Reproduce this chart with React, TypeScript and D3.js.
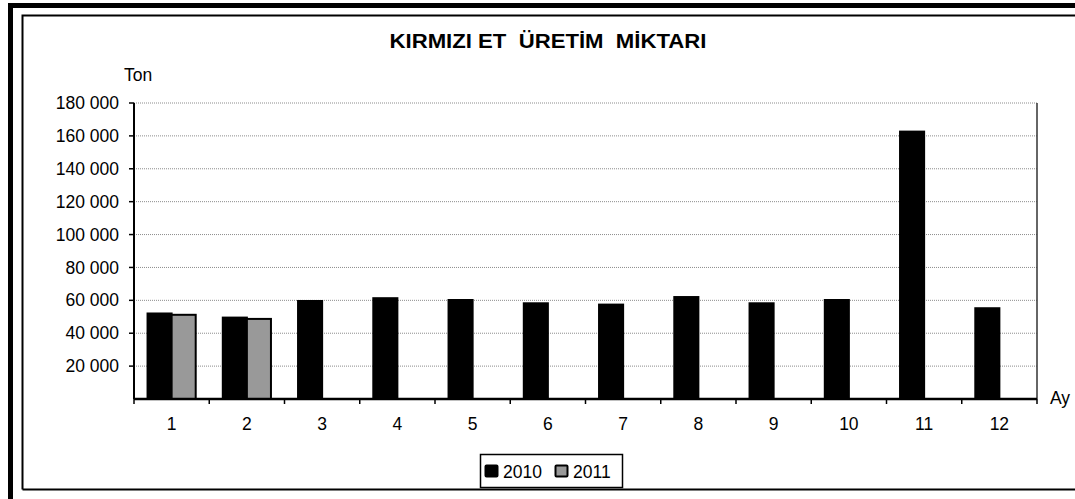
import React from "react";
import * as d3 from "d3";

const months = ["1", "2", "3", "4", "5", "6", "7", "8", "9", "10", "11", "12"];
const series = ["2010", "2011"];
const values2010 = [52000, 49500, 59600, 61300, 60200, 58200, 57400, 62000, 58200, 60200, 162600, 55200];
const values2011: (number | null)[] = [51200, 48700, null, null, null, null, null, null, null, null, null, null];
const yTicks = [20000, 40000, 60000, 80000, 100000, 120000, 140000, 160000, 180000];
const colors = ["#000000", "#999999"];

const W = 1075;
const H = 499;
const L = 134, R = 1037, T = 103, B = 399;
const FONT = "'Liberation Sans', Arial, sans-serif";

export default function App() {
  const x = d3.scaleBand<string>().domain(months).range([L, R]).paddingInner(0.36).paddingOuter(0.18);
  const xs = d3.scaleBand<string>().domain(series).range([0, x.bandwidth()]);
  const y = d3.scaleLinear().domain([0, 180000]).range([B, T]);
  const fmt = (v: number) => d3.format(",")(v).replace(/,/g, " ");
  const step = x.step();
  const tickXs = d3.range(months.length + 1).map((i) => L + i * step);
  const data = [values2010, values2011];

  return (
    <div style={{ position: "fixed", left: 0, top: 0, width: W, height: H, overflow: "hidden", background: "#fff" }}>
      <svg width={W} height={H} style={{ display: "block" }} fontFamily={FONT}>
        <rect x={0} y={0} width={W} height={H} fill="#fff" />
        <path d={`M10.5,${H} V5.5 H${W + 10}`} fill="none" stroke="#000" strokeWidth={5} />
        <path d={`M22.5,489.5 V15.5 H${W + 10}`} fill="none" stroke="#000" strokeWidth={2} />
        <line x1={22.5} x2={W + 10} y1={489.5} y2={489.5} stroke="#000" strokeWidth={2} />

        <text x={548} y={48} textAnchor="middle" fontSize={20} fontWeight="bold" style={{ whiteSpace: "pre" }}
          textLength={317} lengthAdjust="spacingAndGlyphs">KIRMIZI ET  ÜRETİM  MİKTARI</text>

        {yTicks.map((t) => (
          <line key={t} x1={L} x2={R} y1={y(t)} y2={y(t)} stroke="#8c8c8c" strokeWidth={1} strokeDasharray="1,1" />
        ))}
        <line x1={R} x2={R} y1={T} y2={B} stroke="#333" strokeWidth={1.5} />

        {data.map((vals, si) =>
          vals.map((v, i) =>
            v == null ? null : (
              <rect key={`${si}-${i}`} x={(x(months[i]) as number) + (xs(series[si]) as number)} y={y(v)}
                width={xs.bandwidth()} height={B - y(v)} fill={colors[si]} stroke="#000" strokeWidth={2} />
            )
          )
        )}

        <line x1={L} x2={L} y1={T} y2={B} stroke="#000" strokeWidth={2} />
        {yTicks.map((t) => (
          <g key={t}>
            <line x1={L - 5} x2={L} y1={y(t)} y2={y(t)} stroke="#000" strokeWidth={1.5} />
            <text x={119} y={y(t)} dy="0.35em" textAnchor="end" fontSize={17.5}>{fmt(t)}</text>
          </g>
        ))}
        <text x={124} y={81} fontSize={17.5}>Ton</text>

        <line x1={L} x2={R} y1={B} y2={B} stroke="#000" strokeWidth={2.5} />
        {tickXs.map((tx, i) => (
          <line key={i} x1={tx} x2={tx} y1={B} y2={B + 5} stroke="#000" strokeWidth={1.5} />
        ))}
        {months.map((m) => (
          <text key={m} x={(x(m) as number) + x.bandwidth() / 2} y={430} textAnchor="middle" fontSize={17.5}>{m}</text>
        ))}
        <text x={1050} y={404} fontSize={17.5}>Ay</text>

        <rect x={480.5} y={454.5} width={142} height={33} fill="#fff" stroke="#000" strokeWidth={1.5} />
        {series.map((s, i) => (
          <g key={s} transform={`translate(${i === 0 ? 485 : 555},0)`}>
            <rect x={0.5} y={465.5} width={12} height={11} fill={colors[i]} stroke="#000" strokeWidth={2} rx={1} />
            <text x={18} y={478} fontSize={17.5}>{s}</text>
          </g>
        ))}
      </svg>
    </div>
  );
}
